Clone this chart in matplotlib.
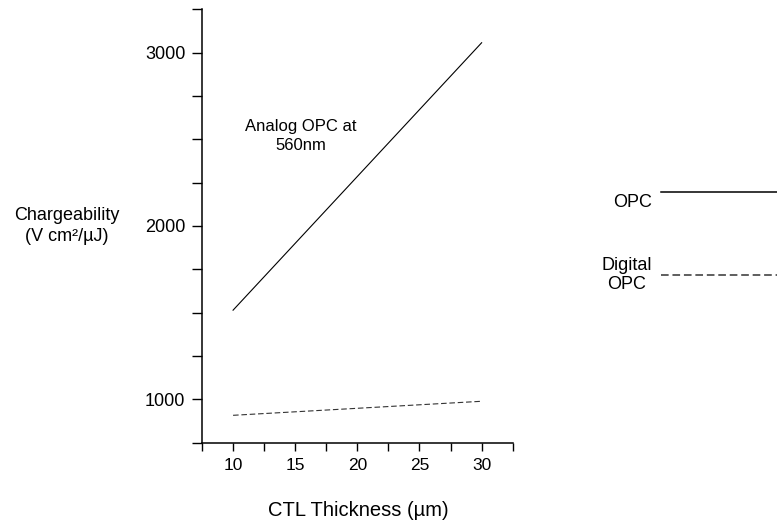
import numpy as np
import matplotlib.pyplot as plt
from matplotlib.ticker import MultipleLocator

plt.rcParams['font.family'] = ['Liberation Sans', 'DejaVu Sans']

# CTL thickness (um) and chargeability (V cm2/uJ)
thickness = [10, 30]
analog_opc = [1514, 3058]
digital_opc = [907, 988]

fig = plt.figure(figsize=(7.77, 5.24), dpi=100)
ax = fig.add_axes([202 / 777, 1 - 442.5 / 524, (512.7 - 202) / 777, (442.5 - 9.5) / 524])

ax.plot(thickness, analog_opc, color='black', lw=0.8, label='\nOPC')
ax.plot(thickness, digital_opc, color='#333333', lw=0.8, ls=(0, (5, 2.5)), label='Digital\nOPC')

ax.set_xlim(7.5, 32.5)
ax.set_ylim(750, 3250)
ax.xaxis.set_major_locator(MultipleLocator(5))
ax.xaxis.set_minor_locator(MultipleLocator(2.5))
ax.yaxis.set_major_locator(MultipleLocator(1000))
ax.yaxis.set_minor_locator(MultipleLocator(250))

for s in ['top', 'right']:
    ax.spines[s].set_visible(False)
ax.spines['left'].set_linewidth(1.1)
ax.spines['bottom'].set_linewidth(1.1)

ax.tick_params(axis='x', which='both', direction='out', length=6, width=1.0, labelsize=12.5, pad=5)
ax.tick_params(axis='y', which='both', direction='out', length=7, width=1.0, labelsize=13, pad=5)

ax.text(15.45, 2520, 'Analog OPC at\n560nm', ha='center', va='center', fontsize=12, linespacing=1.3)

fig.text(67 / 777, 1 - 226 / 524, 'Chargeability\n(V cm\u00b2/\u00b5J)', ha='center', va='center', fontsize=13,
         linespacing=1.35)
fig.text(358 / 777, 1 - 511 / 524, 'CTL Thickness (\u00b5m)', ha='center', va='center', fontsize=14.5)

leg = ax.legend(loc='upper right', bbox_to_anchor=(1.0, 1 - 174 / 524), bbox_transform=fig.transFigure,
                markerfirst=False, frameon=False, handlelength=6.4, handletextpad=0.55,
                labelspacing=2.55, fontsize=13, borderpad=0, borderaxespad=0)
for t in leg.get_texts():
    t.set_multialignment('center')
for h in leg.get_lines():
    h.set_linewidth(1.1)

fig.savefig('out.png', dpi=100)
